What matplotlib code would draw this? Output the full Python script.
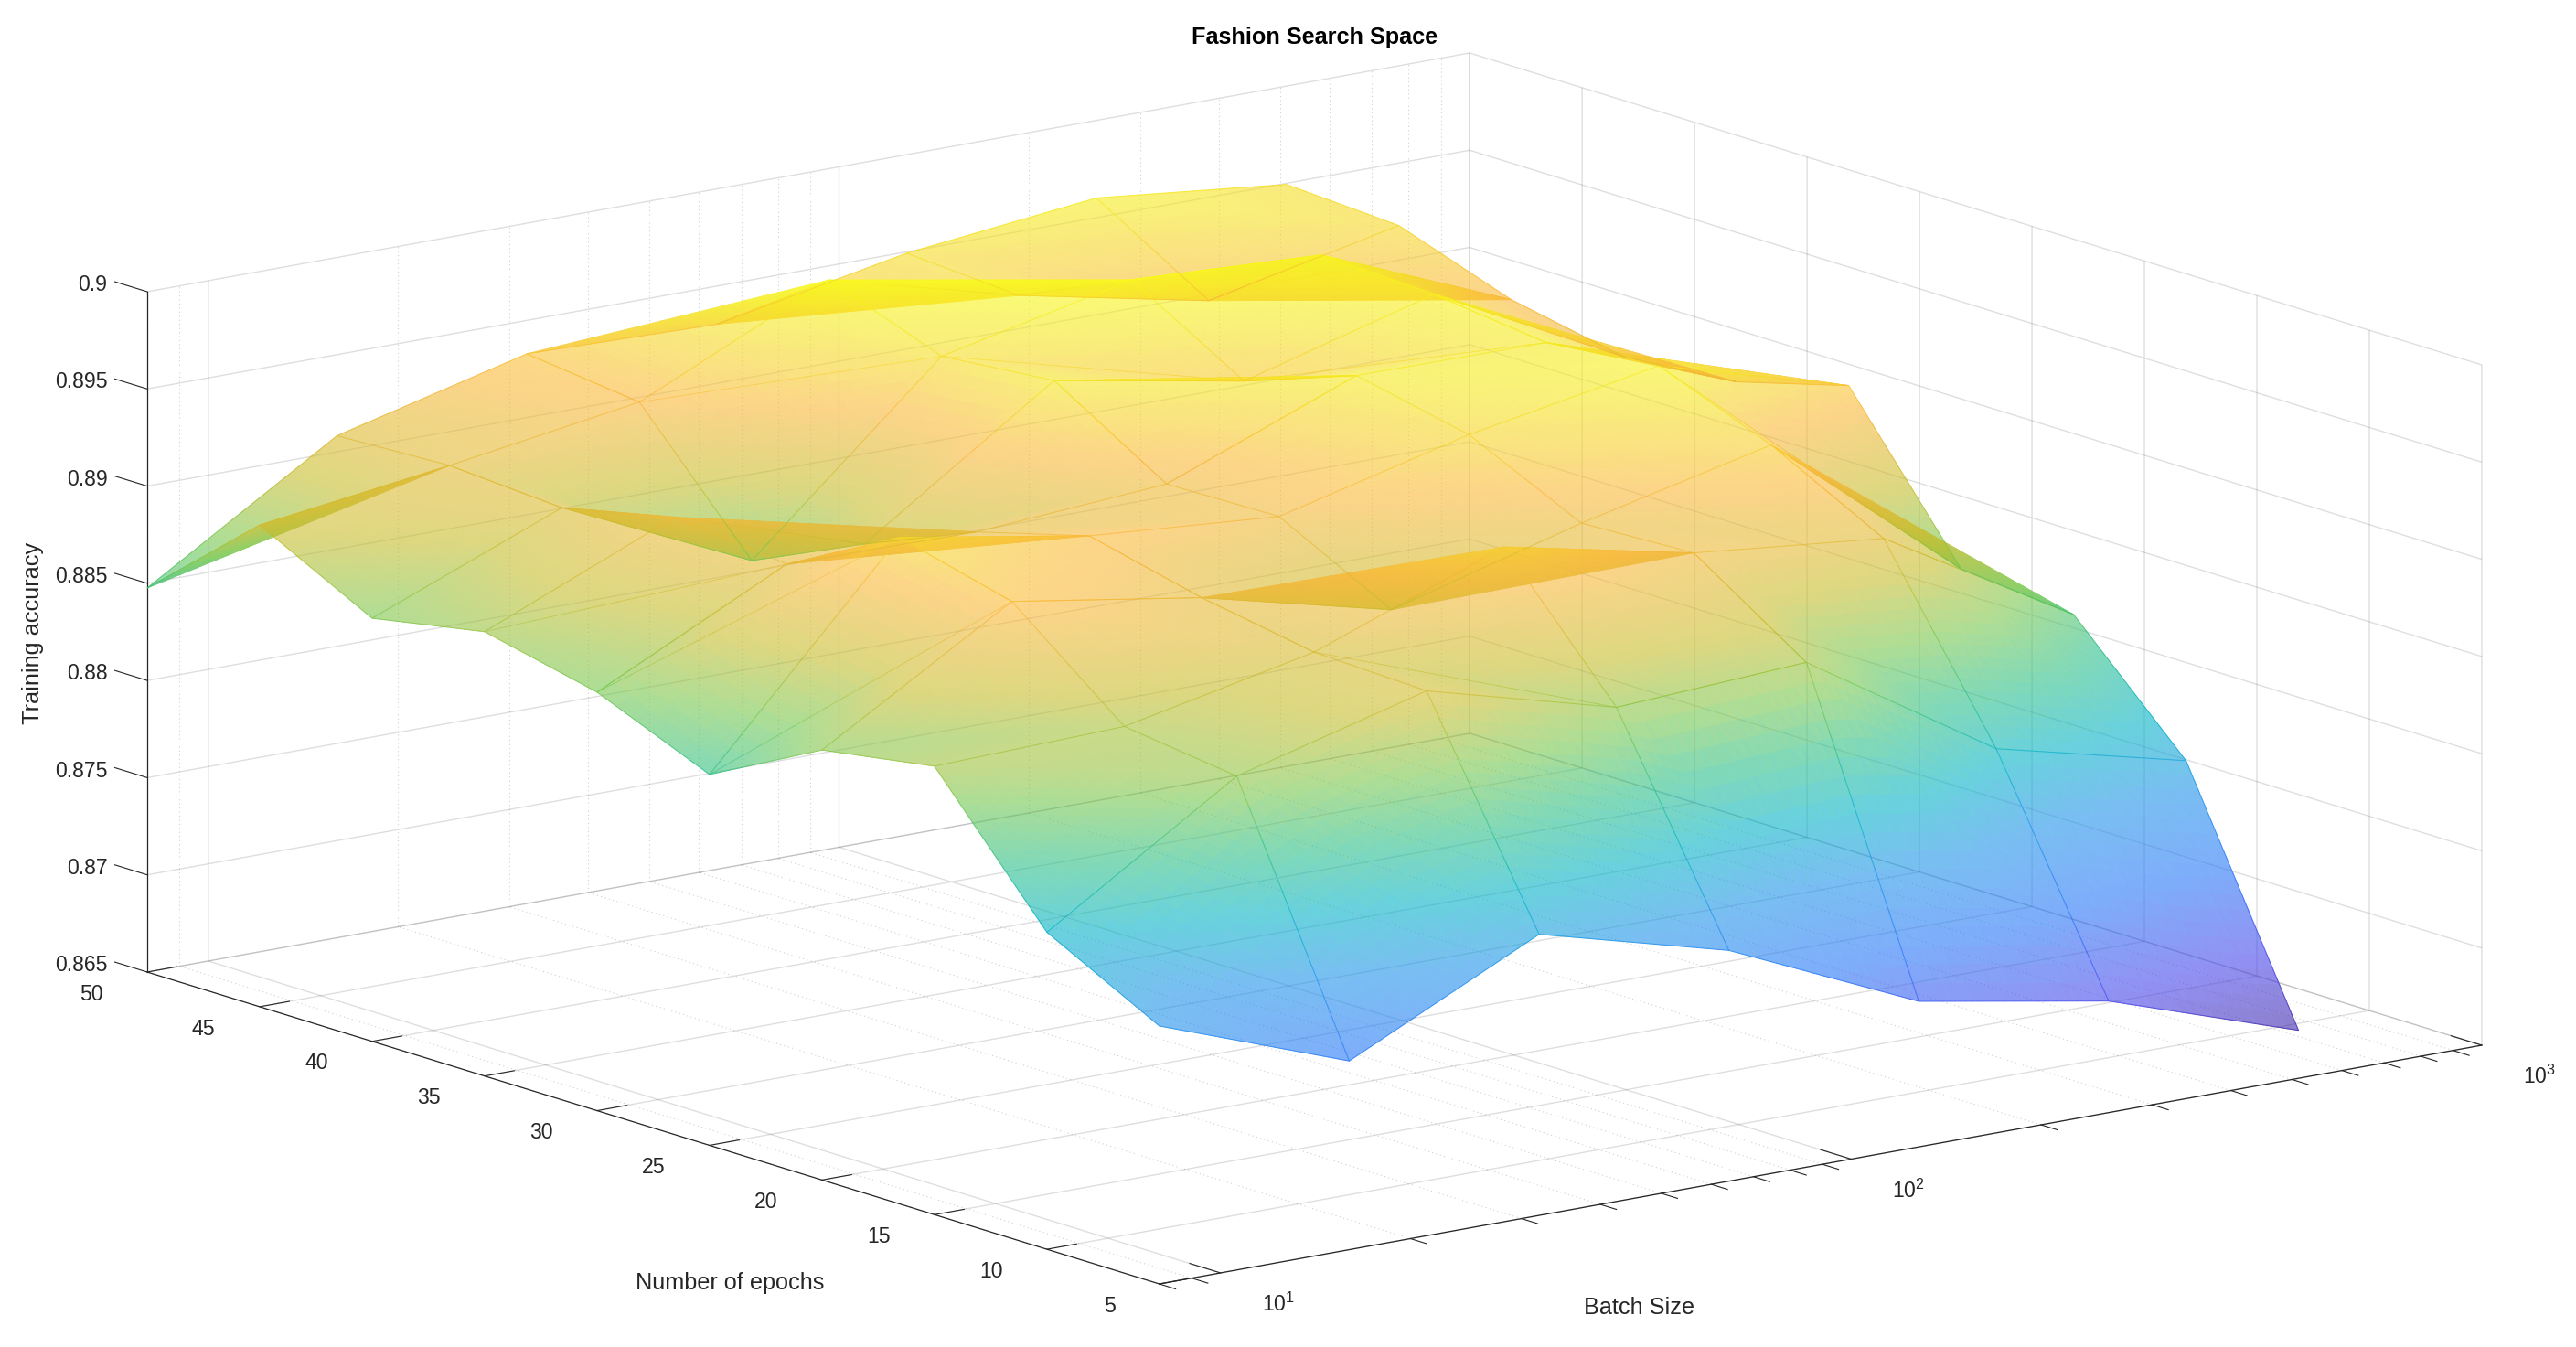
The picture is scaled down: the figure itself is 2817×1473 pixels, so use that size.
import numpy as np
import matplotlib
matplotlib.use('Agg')
import matplotlib.pyplot as plt
from matplotlib.colors import LinearSegmentedColormap, Normalize
from matplotlib.transforms import Affine2D
from mpl_toolkits.mplot3d import proj3d
from mpl_toolkits.mplot3d.art3d import Poly3DCollection, Line3DCollection

plt.rcParams['font.family'] = ['Liberation Sans', 'DejaVu Sans']
plt.rcParams['mathtext.default'] = 'regular'

# ---------- data ----------
batch_sizes = [8, 16, 32, 64, 128, 256, 512]
epochs = [5, 10, 15, 20, 25, 30, 35, 40, 45, 50]
acc_b8 = [.87827, .88131, .88807, .88712, .88408, .88653, .88786, .88677, .88978, .88476]
acc_b16 = [.87471, .88758, .88835, .89300, .89451, .89136, .89199, .89069, .89108, .89083]
acc_b32 = [.87946, .89020, .89041, .89143, .89283, .89125, .88884, .88621, .89258, .89328]
acc_b64 = [.87687, .88759, .89406, .88905, .89206, .89195, .89549, .89496, .89710, .89304]
acc_b128 = [.87249, .88814, .89199, .89174, .89451, .89577, .89370, .89713, .89454, .89493]
acc_b256 = [.87074, .88194, .89097, .89400, .89629, .89570, .89640, .89664, .89251, .89601]
acc_b512 = [.86747, .87956, .88530, .88586, .89351, .89192, .89143, .89258, .89461, .89494]
z_ticks = [0.865, 0.87, 0.875, 0.88, 0.885, 0.89, 0.895, 0.9]
z_tick_labels = ['0.865', '0.87', '0.875', '0.88', '0.885', '0.89', '0.895', '0.9']
batch_major = [10, 100, 1000]
batch_major_labels = [r'$10^{1}$', r'$10^{2}$', r'$10^{3}$']
batch_minor = [8, 9, 20, 30, 40, 50, 60, 70, 80, 90, 200, 300, 400, 500, 600, 700, 800, 900]
title = 'Fashion Search Space'
xlabel = 'Batch Size'
ylabel = 'Number of epochs'
zlabel = 'Training accuracy'

# ---------- parula-like colormap, anchors ----------
parula = LinearSegmentedColormap.from_list('parula', [
    (0.000, (.2422, .1504, .6603)), (0.110, (.2800, .2700, .9200)),
    (0.244, (.1500, .4600, .9700)), (0.364, (.1200, .5700, .9200)),
    (0.467, (.0100, .7000, .7800)), (0.560, (.1700, .7500, .5300)),
    (0.650, (.4700, .7800, .3000)), (0.740, (.7800, .7400, .1700)),
    (0.850, (.9800, .7200, .2200)), (0.945, (.9600, .9000, .1200)),
    (1.000, (.9769, .9839, .0805))])
SURF_ALPHA = 0.775

W, H = 2817, 1473
fig = plt.figure(figsize=(W / 100, H / 100), dpi=100, facecolor='white')
side = 3200
ax = fig.add_axes([0, 0, side / W, side / H], projection='3d', computed_zorder=False)
ax.set_proj_type('ortho')
ax.view_init(elev=13.64, azim=-127.43)
ax.patch.set_alpha(0)

X = np.log10(batch_sizes)
Y = np.array(epochs, float)
Z = np.array([acc_b8, acc_b16, acc_b32, acc_b64, acc_b128, acc_b256, acc_b512])
xlim = (np.log10(8), 3.0)
ylim = (5, 50)
zlim = (0.865, 0.9)
ax.set_xlim(*xlim, view_margin=0)
ax.set_ylim(*ylim, view_margin=0)
ax.set_zlim(*zlim, view_margin=0)

# ---------- fit the projected box onto the wanted pixel corners ----------
target_left = (161, 1063)    # x min, y max, z min
target_right = (2714, 1143)  # x max, y min, z min


def corner_px(cx, cy, cz):
    m = ax.get_proj()
    px, py, _ = proj3d.proj_transform(cx, cy, cz, m)
    a = ax.transData.transform((px, py))
    return a[0], H - a[1]


ax.set_box_aspect((1, 1, 0.4204), zoom=1.0)
fig.canvas.draw()
l = np.array(corner_px(xlim[0], ylim[1], zlim[0]))
r = np.array(corner_px(xlim[1], ylim[0], zlim[0]))
k = (target_right[0] - target_left[0]) / (r[0] - l[0])
ax.set_box_aspect((1, 1, 0.4204), zoom=k)
fig.canvas.draw()
l = np.array(corner_px(xlim[0], ylim[1], zlim[0]))
dx, dy = target_left[0] - l[0], target_left[1] - l[1]
ax.set_position([dx / W, -dy / H, side / W, side / H])
fig.canvas.draw()

# ---------- axes styling ----------
DARK = (.15, .15, .15)
TICK_FS = 16.6
ax.set_xticks(np.log10(batch_major))
ax.set_xticklabels(batch_major_labels)
ax.set_yticks(epochs)
ax.set_yticklabels([str(e) for e in epochs])
ax.set_zticks(z_ticks)
ax.set_zticklabels(z_tick_labels)
ax.zaxis.set_ticks_position('upper')
ax.zaxis._get_tickdir = lambda pos: 1
ax.tick_params(axis='both', labelsize=TICK_FS, colors=DARK, width=.8)
ax.tick_params(axis='x', pad=42)
ax.tick_params(axis='y', pad=28)
ax.tick_params(axis='z', pad=12.5)

for axis, fac in ((ax.xaxis, .38), (ax.yaxis, .28), (ax.zaxis, .40)):
    axis.set_pane_color((1, 1, 1, 0))
    axis.pane.set_edgecolor((1, 1, 1, 0))
    axis.line.set_color(DARK)
    axis.line.set_linewidth(.9)
    axis._axinfo['tick'].update(inward_factor=0.0, outward_factor=fac)
    axis._axinfo['grid'].update(color=(.15, .15, .15, .15), linewidth=1.0, linestyle='-')


def style_tick_labels(axis, ha, va, ox, oy):
    """alignment plus a small pixel nudge of the real tick labels"""
    for t in axis.get_major_ticks():
        t.label1.set_ha(ha)
        t.label1.set_va(va)
        t.label1.set_transform(ax.transData + Affine2D().translate(ox, oy))
        t.label1.set_transform = lambda *_a, **_k: None


style_tick_labels(ax.zaxis, 'right', 'center', 0, 6)
style_tick_labels(ax.yaxis, 'right', 'center', -5, 6)
style_tick_labels(ax.xaxis, 'left', 'bottom', -1, -2)

# axis labels stay real axis labels, pinned to fixed places on the canvas
for axis, setter, text, xy, rot in (
        (ax.xaxis, ax.set_xlabel, xlabel, (1793, 1430), 0),
        (ax.yaxis, ax.set_ylabel, ylabel, (798, 1403), 0),
        (ax.zaxis, ax.set_zlabel, zlabel, (36, 692), 90)):
    setter(text, fontsize=18.2, color=DARK)
    axis.set_rotate_label(False)
    axis._axinfo['label'].update(ha='center', va='center')
    lab = axis.label
    lab.set_rotation(rot)
    lab.set_position(ax.transData.inverted().transform((xy[0], H - xy[1])))
    lab.set_position = lambda *_a, **_k: None

fig.suptitle(title, x=1438 / W, y=1 - 41 / H, fontsize=18.2, fontweight='bold',
             color='black', va='center', ha='center')

# ---------- minor log grid and minor ticks ----------
MINOR = (.15, .15, .15, .22)
ytick_len = 0.016 * (ylim[1] - ylim[0])
for b in batch_minor:
    lx = np.log10(b)
    ax.plot([lx, lx], [ylim[1], ylim[1]], zlim, ls=(0, (1, 3)), color=MINOR, lw=.8, zorder=1)
    ax.plot([lx, lx], ylim, [zlim[0], zlim[0]], ls=(0, (1, 3)), color=MINOR, lw=.8, zorder=1)
    ax.plot([lx, lx], [ylim[0], ylim[0] - ytick_len], [zlim[0], zlim[0]], color=DARK, lw=.8, zorder=2)

# ---------- surface, shaded per vertex, split along MATLAB's diagonals ----------
norm = Normalize(Z.min(), Z.max())
N_SUB = 18

XX, YY = np.meshgrid(X, Y, indexing='ij')
P = np.dstack([XX, YY, Z])
big_tris = []
for i in range(len(X) - 1):
    for j in range(len(Y) - 1):
        big_tris.append((P[i, j], P[i + 1, j], P[i, j + 1]))
        big_tris.append((P[i + 1, j + 1], P[i, j + 1], P[i + 1, j]))
big_tris = np.array(big_tris)

# screen position of each big triangle, used to separate overlapping sheets of the surface
M = ax.get_proj()
sx, sy, sz = proj3d.proj_transform(big_tris[..., 0].ravel(), big_tris[..., 1].ravel(),
                                   big_tris[..., 2].ravel(), M)
scr = np.stack([sx, sy], axis=-1).reshape(-1, 3, 2)
depth = np.asarray(sz).reshape(-1, 3).mean(axis=1)
cen = scr.mean(axis=1, keepdims=True)
scr_small = cen + (scr - cen) * 0.97


def overlap(a, b):
    for poly in (a, b):
        for e in range(3):
            d = poly[(e + 1) % 3] - poly[e]
            nrm = np.array([-d[1], d[0]])
            pa, pb = a @ nrm, b @ nrm
            if pa.max() < pb.min() or pb.max() < pa.min():
                return False
    return True


layers = []
for idx in np.argsort(-depth):
    for lay in layers:
        if not any(overlap(scr_small[idx], scr_small[o]) for o in lay):
            lay.append(idx)
            break
    else:
        layers.append([idx])


def tri_sub(pa, pb, pc, n):
    """small triangles of one big triangle (for smooth shading only)"""
    out = []

    def p(a, b):
        return pa + (pb - pa) * a / n + (pc - pa) * b / n
    for a in range(n):
        for b in range(n - a):
            out.append((p(a, b), p(a + 1, b), p(a, b + 1)))
            if a + b < n - 1:
                out.append((p(a + 1, b), p(a + 1, b + 1), p(a, b + 1)))
    return out


def fade_layer(img, dpi):
    out = img.copy()
    out[..., 3] *= SURF_ALPHA
    return out, 0, 0


for g, lay in enumerate(layers):
    polys = []
    for idx in lay:
        polys += tri_sub(*big_tris[idx], N_SUB)
    polys = np.array(polys)
    face = parula(norm(polys[:, :, 2].mean(axis=1)))
    surf = Poly3DCollection(polys, facecolors=face, edgecolors=face, linewidths=.6,
                            antialiased=True, zorder=5 + g * .01)
    surf.set_agg_filter(fade_layer)
    ax.add_collection3d(surf)

# grid edges of the surface, coloured along their length
segs = []
N_EDGE = 10
for i in range(len(X)):
    for j in range(len(Y)):
        t = np.linspace(0, 1, N_EDGE + 1)[:, None]
        if i + 1 < len(X):
            q = P[i, j] + (P[i + 1, j] - P[i, j]) * t
            segs += [q[k_:k_ + 2] for k_ in range(N_EDGE)]
        if j + 1 < len(Y):
            q = P[i, j] + (P[i, j + 1] - P[i, j]) * t
            segs += [q[k_:k_ + 2] for k_ in range(N_EDGE)]
segs = np.array(segs)
ecol = parula(norm(segs[:, :, 2].mean(axis=1)))
ecol[:, 3] = 0.72
edges = Line3DCollection(segs, colors=ecol, linewidths=.75, zorder=6)
ax.add_collection3d(edges)

ax.set_xlim(*xlim, view_margin=0)
ax.set_ylim(*ylim, view_margin=0)
ax.set_zlim(*zlim, view_margin=0)
fig.savefig('out.png', dpi=100, facecolor='white')
